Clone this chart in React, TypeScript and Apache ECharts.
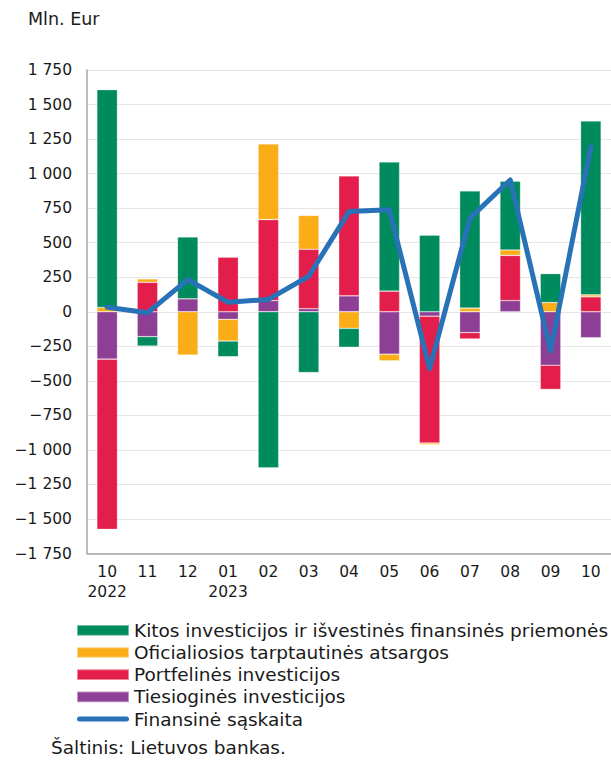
import React, { useEffect, useRef } from "react";
import * as echarts from "echarts";

const months = ["10", "11", "12", "01", "02", "03", "04", "05", "06", "07", "08", "09", "10"];
const years = ["2022", "", "", "2023", "", "", "", "", "", "", "", "", ""];

const tiesiogines = [-343, -180, 94, -55, 81, 22, 115, -307, -32, -151, 81, -387, -188];
const portfelines = [-1232, 213, 0, 394, 586, 430, 868, 149, -918, -46, 327, -175, 108];
const oficialiosios = [31, 25, -313, -157, 548, 245, -120, -48, -12, 26, 39, 67, 14];
const kitos = [1577, -68, 447, -113, -1130, -440, -137, 935, 555, 849, 498, 209, 1259];
const finansine = [33, -7, 233, 69, 89, 257, 725, 738, -411, 678, 954, -284, 1194];

const names = {
  kitos: "Kitos investicijos ir išvestinės finansinės priemonės",
  ofic: "Oficialiosios tarptautinės atsargos",
  port: "Portfelinės investicijos",
  ties: "Tiesioginės investicijos",
  fin: "Finansinė sąskaita",
};

const FONT = "DejaVu Sans";

function fmt(v: number) {
  const s = Math.abs(v).toString().replace(/\B(?=(\d{3})+(?!\d))/g, " ");
  return v < 0 ? "\u2212" + s : s;
}

export default function App() {
  const ref = useRef<HTMLDivElement>(null);
  useEffect(() => {
    const chart = echarts.init(ref.current!, null, { renderer: "svg" });
    const categories = months.map((m, i) => (years[i] ? m + "\n" + years[i] : m));
    const barBase = {
      type: "bar",
      stack: "total",
      barWidth: "51%",
      itemStyle: { borderColor: "rgba(255,255,255,0.45)", borderWidth: 0.6 },
    };
    chart.setOption({
      animation: false,
      textStyle: { fontFamily: FONT, color: "#1a1a1a" },
      grid: { left: 87, right: -6, top: 70, bottom: 215.5, containLabel: false },
      xAxis: {
        type: "category",
        data: categories,
        axisLine: { onZero: false, lineStyle: { color: "#a6a6a6", width: 1.5 } },
        axisTick: { show: false },
        axisLabel: {
          fontFamily: FONT,
          fontSize: 15.5,
          color: "#1a1a1a",
          lineHeight: 20.5,
          margin: 8,
          interval: 0,
        },
      },
      yAxis: {
        type: "value",
        min: -1750,
        max: 1750,
        interval: 250,
        axisLine: { show: true, lineStyle: { color: "#a6a6a6", width: 1.5 } },
        axisTick: { show: false },
        splitLine: { lineStyle: { color: "#e6e6e6", width: 1.2 } },
        axisLabel: {
          fontFamily: FONT,
          fontSize: 15.5,
          color: "#1a1a1a",
          margin: 15,
          formatter: (v: number) => fmt(v),
        },
      },
      legend: {
        orient: "vertical",
        left: 76,
        top: 619.3,
        padding: 0,
        itemWidth: 52,
        itemHeight: 10.7,
        itemGap: 0.2,
        symbolKeepAspect: true,
        textStyle: { fontFamily: FONT, fontSize: 18.5, color: "#1a1a1a", lineHeight: 22 },
        data: [
          { name: names.kitos, icon: "rect" },
          { name: names.ofic, icon: "rect" },
          { name: names.port, icon: "rect" },
          { name: names.ties, icon: "rect" },
          {
            name: names.fin,
            icon: "path://M2.75,0 H54.25 A2.75,2.75 0 0 1 54.25,5.5 H2.75 A2.75,2.75 0 0 1 2.75,0 Z",
          },
        ],
      },
      graphic: [
        {
          type: "text",
          left: 28,
          top: 10,
          style: { text: "Mln. Eur", font: `17.5px "${FONT}"`, fill: "#1a1a1a" },
        },
        {
          type: "text",
          left: 51,
          top: 738,
          style: { text: "Šaltinis: Lietuvos bankas.", font: `18.5px "${FONT}"`, fill: "#1a1a1a" },
        },
      ],
      series: [
        { ...barBase, name: names.ties, data: tiesiogines, itemStyle: { ...barBase.itemStyle, color: "#8d3f96" } },
        { ...barBase, name: names.port, data: portfelines, itemStyle: { ...barBase.itemStyle, color: "#e31e4a" } },
        { ...barBase, name: names.ofic, data: oficialiosios, itemStyle: { ...barBase.itemStyle, color: "#fbad18" } },
        { ...barBase, name: names.kitos, data: kitos, itemStyle: { ...barBase.itemStyle, color: "#008b5f" } },
        {
          type: "line",
          name: names.fin,
          data: finansine,
          symbol: "none",
          z: 5,
          lineStyle: { color: "#2872b8", width: 5, cap: "round", join: "round" },
          itemStyle: { color: "#2872b8" },
        },
      ],
    });
    return () => chart.dispose();
  }, []);
  return (
    <div
      ref={ref}
      style={{ width: 611, height: 769, position: "absolute", left: 0, top: 0, overflow: "hidden" }}
    />
  );
}
